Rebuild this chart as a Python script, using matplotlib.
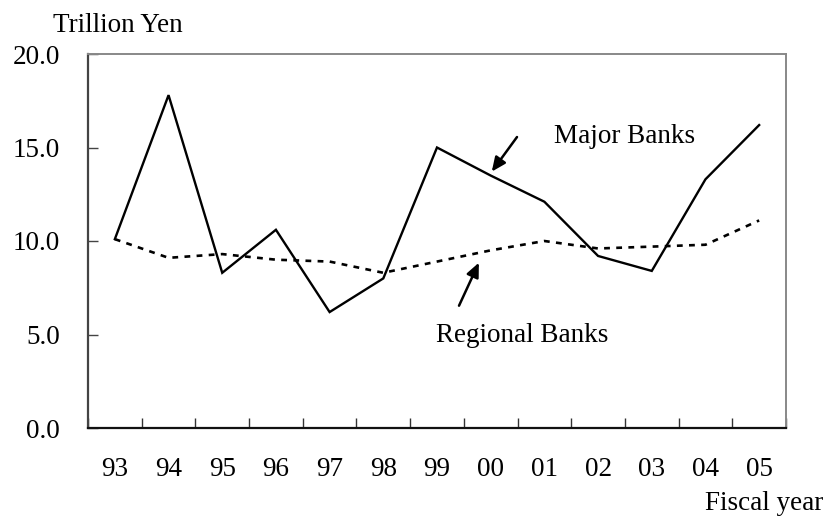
import matplotlib
matplotlib.use("Agg")
import matplotlib.pyplot as plt

years = ["93", "94", "95", "96", "97", "98", "99", "00", "01", "02", "03", "04", "05"]
major = [10.1, 17.8, 8.3, 10.6, 6.2, 8.0, 15.0, 13.5, 12.1, 9.2, 8.4, 13.3, 16.2]
regional = [10.1, 9.1, 9.3, 9.0, 8.9, 8.3, 8.9, 9.5, 10.0, 9.6, 9.7, 9.8, 11.1]
yticks = [0, 5, 10, 15, 20]

plt.rcParams['font.family'] = ['Liberation Serif', 'DejaVu Serif']
FS = 19.5

fig = plt.figure(figsize=(8.31, 5.17), dpi=100)
ax = fig.add_axes([88/831, 1-428/517, (786-88)/831, (428-54)/517])

x = list(range(len(years)))
ax.plot(x, major, color='black', lw=1.7, solid_joinstyle='miter')
ax.plot(x, regional, color='black', lw=1.9, dashes=(2.2, 2.4))

ax.set_xlim(-0.5, len(years)-0.5)
ax.set_ylim(0, 20)
ax.set_yticks(yticks)
ax.set_yticklabels([f"{v:.1f}" for v in yticks], fontsize=FS)
ax.set_xticks(x)
ax.set_xticklabels(years, fontsize=FS)
ax.set_xticks([i-0.5 for i in range(len(years)+1)], minor=True)
ax.tick_params(axis='x', which='major', length=0, pad=21)
ax.tick_params(axis='x', which='minor', direction='in', length=7, width=1, color='#333333')
ax.tick_params(axis='y', direction='in', length=7, width=1, pad=20, color='#444444')

for s in ['top', 'right']:
    ax.spines[s].set_color('#888888')
    ax.spines[s].set_linewidth(1.4)
ax.spines['left'].set_color('#444444')
ax.spines['left'].set_linewidth(1.6)
ax.spines['bottom'].set_color('#111111')
ax.spines['bottom'].set_linewidth(1.6)

ap = dict(arrowstyle='-|>,head_length=0.85,head_width=0.38', color='black', lw=1.8, shrinkA=0, shrinkB=0)
ax.annotate('', xy=(7.02, 13.71), xytext=(7.49, 15.56), arrowprops=ap)
ax.annotate('', xy=(6.78, 8.84), xytext=(6.41, 6.54), arrowprops=ap)

ax.text(8.18, 15.26, "Major Banks", fontsize=FS, ha='left', va='baseline')
ax.text(5.99, 4.6, "Regional Banks", fontsize=FS, ha='left', va='baseline')

fig.text(53/831, 1-31.7/517, "Trillion Yen", fontsize=FS, ha='left', va='baseline')
fig.text(823/831, 1-510/517, "Fiscal year", fontsize=FS, ha='right', va='baseline')

fig.savefig("out.png", dpi=100)
